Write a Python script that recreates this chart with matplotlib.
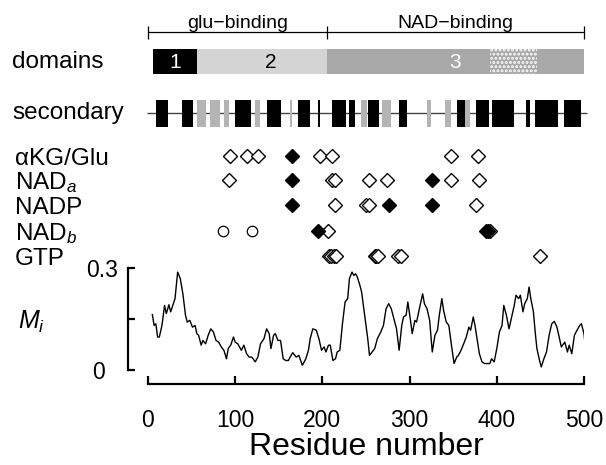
import matplotlib
matplotlib.use('Agg')
import matplotlib.pyplot as plt
from matplotlib.transforms import blended_transform_factory

plt.rcParams['font.family'] = ['Liberation Sans', 'DejaVu Sans']
plt.rcParams['mathtext.fontset'] = 'custom'
plt.rcParams['mathtext.rm'] = 'Liberation Sans'
plt.rcParams['mathtext.it'] = 'Liberation Sans:italic'
plt.rcParams['hatch.linewidth'] = 1.4

# --- data ---
region_names = ['glu\u2212binding', 'NAD\u2212binding']
region_bounds = [0, 205, 500]

domain_labels = ['1', '2', '3']
domain_start = [6, 56, 205]
domain_end = [56, 205, 500]
speckle_start, speckle_end = 392, 446

helix_start = [9, 39, 100, 136, 172, 195, 211, 230, 252, 288, 354, 376, 395, 433, 444, 477]
helix_end = [23, 52, 118, 152, 186, 197, 227, 237, 265, 297, 363, 391, 420, 438, 470, 496]
strand_start = [56, 71, 87, 123, 163, 244, 268, 320, 341, 364]
strand_end = [66, 82, 93, 129, 165, 251, 279, 325, 347, 369]

site_rows = ['\u03b1KG/Glu', 'NAD$_{a}$', 'NADP', 'NAD$_{b}$', 'GTP']
open_sites = [
    [94, 113, 126, 197, 211, 348, 379],
    [93, 211, 214, 254, 274, 348, 380],
    [214, 250, 253, 376],
    [206, 392],
    [207, 210, 213, 216, 260, 262, 264, 287, 290, 449],
]
filled_sites = [
    [165],
    [165, 326],
    [165, 276, 326],
    [195, 388, 390],
    [],
]
circle_sites = [[], [], [], [86, 119], []]

mi_res = [5, 7, 9, 11, 13, 16, 19, 21, 24, 26, 29, 31, 34, 37, 40, 43, 45, 48, 51, 54,
          56, 58, 61, 63, 66, 69, 72, 75, 78, 81, 84, 87, 90, 92, 95, 98, 100, 103, 107, 110,
          113, 116, 119, 123, 126, 129, 133, 136, 139, 141, 144, 146, 149, 152, 155, 158, 161, 163, 166,
          170, 173, 177, 181, 184, 186, 189, 193, 196, 199, 202, 204, 207, 209, 212, 215, 217, 220,
          223, 226, 229, 231, 234, 236, 238, 240, 243, 245, 247, 250, 252, 254, 257, 260, 263, 267,
          270, 273, 276, 279, 282, 285, 288, 291, 293, 296, 298, 301, 303, 306, 308, 312, 315, 317,
          320, 323, 326, 329, 332, 334, 337, 339, 342, 345, 348, 351, 354, 356, 359, 362, 365, 368,
          370, 373, 375, 378, 380, 383, 386, 389, 392, 394, 397, 400, 403, 406, 408, 411, 414, 417,
          420, 422, 425, 427, 430, 432, 435, 437, 439, 442, 444, 446, 449, 451, 454, 457, 460, 463,
          466, 469, 472, 474, 478, 481, 483, 486, 489, 492, 495, 497, 500, 501]
mi_val = [.163, .131, .136, .097, .097, .131, .190, .166, .192, .171, .195, .210, .288, .269, .224, .161, .141, .146, .126, .131,
          .107, .102, .073, .087, .077, .102, .121, .112, .087, .082, .068, .058, .033, .063, .074, .097, .082, .077, .058, .073,
          .048, .038, .038, .024, .038, .077, .092, .121, .107, .063, .102, .107, .087, .087, .033, .028, .028, .038, .051,
          .038, .043, .014, .033, .058, .092, .121, .117, .092, .058, .068, .053, .073, .073, .028, .033, .053, .058,
          .136, .200, .210, .269, .288, .278, .283, .274, .249, .229, .190, .131, .092, .043, .053, .063, .092, .112,
          .131, .180, .195, .180, .151, .121, .058, .131, .156, .161, .200, .146, .107, .146, .141, .190, .224, .195,
          .180, .146, .053, .102, .117, .160, .210, .175, .141, .131, .073, .019, .038, .043, .058, .077, .097, .126,
          .117, .156, .131, .082, .048, .024, .019, .019, .019, .033, .024, .063, .112, .131, .190, .161, .121, .156,
          .190, .220, .210, .220, .171, .195, .210, .244, .210, .171, .112, .063, .028, .009, .033, .053, .102, .136,
          .143, .126, .092, .068, .082, .053, .073, .048, .102, .117, .131, .136, .107, .082]

W, H = 606, 465
fig = plt.figure(figsize=(W / 100, H / 100), dpi=100)

# ---------- top panel (y in pixel rows from the top) ----------
axt = fig.add_axes([148 / W, (H - 262) / H, 436 / W, 262 / H])
axt.set_xlim(0, 500)
axt.set_ylim(262, 0)
axt.axis('off')
lab = blended_transform_factory(fig.transFigure, axt.transData)

# region brackets
axt.hlines(32, region_bounds[0], region_bounds[-1], color='black', lw=0.9, clip_on=False)
axt.vlines(region_bounds, 26, 39, color='black', lw=0.9, clip_on=False)
for i, name in enumerate(region_names):
    axt.text((region_bounds[i] + region_bounds[i + 1]) / 2, 28, name, ha='center',
             va='baseline', fontsize=14)

# domains
dom_colors = ['black', '#d4d4d4', '#a8a8a8']
txt_colors = ['white', 'black', 'white']
axt.barh(61.5, [e - s for s, e in zip(domain_start, domain_end)], left=domain_start,
         height=25, color=dom_colors, edgecolor='none')
axt.barh(61.5, speckle_end - speckle_start, left=speckle_start, height=25,
         color='#a8a8a8', edgecolor='white', linewidth=0, hatch='....')
for s, e, t, c in zip(domain_start, domain_end, domain_labels, txt_colors):
    axt.text((s + e) / 2 + (10 if t == '2' else 0), 62, t, ha='center', va='center',
             fontsize=15, color=c)
axt.text(12 / W, 62, 'domains', transform=lab, ha='left', va='center', fontsize=17.5)

# secondary structure
axt.hlines(113, -1, 503, color='#444444', lw=1.0, clip_on=False, zorder=1)
axt.barh(113.5, [e - s for s, e in zip(helix_start, helix_end)], left=helix_start,
         height=27, color='black', edgecolor='none', zorder=2)
axt.barh(113.5, [e - s for s, e in zip(strand_start, strand_end)], left=strand_start,
         height=27, color='#b4b4b4', edgecolor='none', zorder=2)
axt.text(12 / W, 113, 'secondary', transform=lab, ha='left', va='center', fontsize=17.5)

# binding sites
row_y = [156, 180, 205, 231, 256]
for y, name, op, fi, ci in zip(row_y, site_rows, open_sites, filled_sites, circle_sites):
    axt.text(15 / W, y, name, transform=lab, ha='left', va='center_baseline', fontsize=17.5)
    axt.plot(op, [y] * len(op), 'D', ms=7.5, mfc='white', mec='black', mew=1.0,
             clip_on=False, ls='none', zorder=3)
    axt.plot(fi, [y] * len(fi), 'D', ms=7.5, mfc='black', mec='black', mew=1.0,
             clip_on=False, ls='none', zorder=4)
    axt.plot(ci, [y] * len(ci), 'o', ms=7.5, mfc='white', mec='black', mew=0.9,
             clip_on=False, ls='none', zorder=3)

# ---------- bottom panel: M_i profile ----------
ax = fig.add_axes([148 / W, (H - 370) / H, 436 / W, 102 / H])
ax.plot(mi_res, mi_val, color='black', lw=1.0)
ax.set_xlim(0, 500)
ax.set_ylim(0, 0.3)
for side in ['top', 'right']:
    ax.spines[side].set_visible(False)
ax.spines['left'].set_position(('outward', 14.4))
ax.spines['bottom'].set_position(('outward', 10.1))
ax.spines['left'].set_linewidth(1.6)
ax.spines['bottom'].set_linewidth(1.6)
ax.spines['left'].set_bounds(0, 0.3)
ax.spines['bottom'].set_bounds(0, 500)
ax.set_xticks([0, 100, 200, 300, 400, 500])
ax.set_yticks([0, 0.15, 0.3])
ax.set_yticklabels(['0  ', '', '0.3'])
ax.tick_params(axis='x', direction='in', length=6, width=1.6, pad=18, labelsize=16.5)
ax.tick_params(axis='y', direction='in', length=5, width=1.6, pad=7, labelsize=16.5)
ax.set_xlabel('Residue number', fontsize=23, labelpad=0)
fig.text(18 / W, 1 - 322 / H, '$M_i$', fontsize=18, ha='left', va='center')

fig.savefig('out.png', dpi=100)
